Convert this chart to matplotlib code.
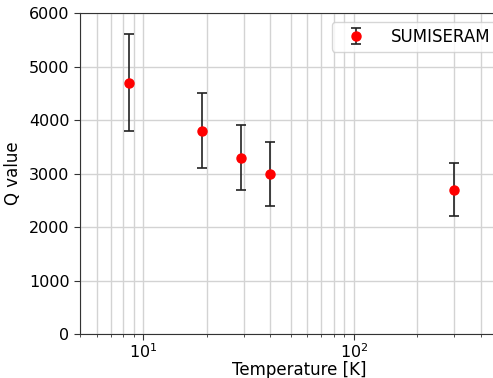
import numpy as np
import matplotlib
matplotlib.use('Agg')
import matplotlib.pyplot as plt

temperature = [8.5, 19, 29, 40, 300]
q_value = [4700, 3800, 3300, 3000, 2700]
q_err_low = [900, 700, 600, 600, 500]
q_err_high = [900, 700, 600, 600, 500]

fig = plt.figure(figsize=(4.93, 3.78), dpi=100)
# the axes run past the right edge, as in the cropped reference
ax = fig.add_axes([0.1623, 0.1156, 0.888, 0.85])

ax.errorbar(temperature, q_value, yerr=[q_err_low, q_err_high], fmt='o',
            color='red', ecolor='#222222', elinewidth=1.2, capsize=3.5,
            capthick=1.2, markersize=6.5, label='SUMISERAM', zorder=3)

ax.set_xscale('log')
ax.set_xlim(5, 600)
ax.set_ylim(0, 6000)
ax.set_yticks(np.arange(0, 6001, 1000))
ax.grid(True, which='both', axis='x', color='#d3d3d3', lw=1)
ax.grid(True, which='major', axis='y', color='#d3d3d3', lw=1)
ax.set_axisbelow(True)

ax.set_xlabel('Temperature [K]', fontsize=12, labelpad=0)
ax.set_ylabel('Q value', fontsize=12, labelpad=5)
ax.tick_params(axis='both', which='major', labelsize=11.5, length=4,
               color='#333333')
ax.tick_params(axis='x', which='major', pad=1.5)
ax.tick_params(axis='x', which='minor', length=2, color='#333333')
for s in ax.spines.values():
    s.set_color('#333333')

ax.legend(loc='upper left', bbox_to_anchor=(0.673, 0.942),
          bbox_transform=fig.transFigure, borderaxespad=0,
          fontsize=12, borderpad=0.35, handlelength=2.2,
          handletextpad=1.0, framealpha=0.8)

fig.savefig('out.png', dpi=100)
